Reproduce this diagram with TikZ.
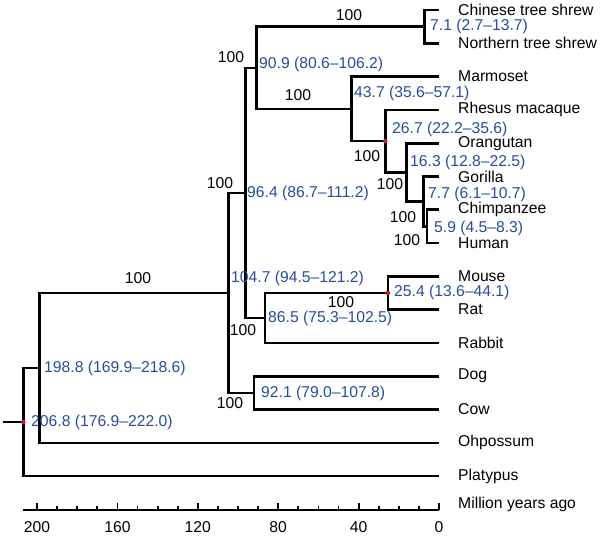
\documentclass[tikz,border=0pt]{standalone}
\usepackage{fontspec}
\setmainfont{Liberation Sans}
\definecolor{ageblue}{RGB}{41,77,153}
\definecolor{dotred}{RGB}{190,30,45}
\tikzset{
  lbl/.style={font=\fontsize{15.7}{18}\selectfont, inner sep=0pt},
  tip/.style={lbl, anchor=west},
  age/.style={lbl, anchor=west, text=ageblue},
  boot/.style={lbl, anchor=center},
  branch/.style={line width=2.6pt, line join=miter, line cap=butt},
  axisline/.style={line width=1.8pt},
  reddot/.style={fill=dotred, draw=none},
}
\begin{document}
\begin{tikzpicture}[x=1pt,y=-1pt]
\useasboundingbox (0,0) rectangle (600,539);
% tip ends
\coordinate (e0) at (439,10);
\coordinate (e1) at (439,43.3);
\coordinate (e2) at (439,76.6);
\coordinate (e3) at (439,109.9);
\coordinate (e4) at (439,143.2);
\coordinate (e5) at (439,176.4);
\coordinate (e6) at (439,209.7);
\coordinate (e7) at (439,243);
\coordinate (e8) at (439,276.3);
\coordinate (e9) at (439,309.6);
\coordinate (e10) at (439,342.9);
\coordinate (e11) at (439,376.2);
\coordinate (e12) at (439,409.5);
\coordinate (e13) at (439,442.8);
\coordinate (e14) at (439,476);
% tip labels
\node[tip] (t0) at (458,10) {Chinese tree shrew};
\node[tip] (t1) at (458,43.3) {Northern tree shrew};
\node[tip] (t2) at (458,76.6) {Marmoset};
\node[tip] (t3) at (458,109.9) {Rhesus macaque};
\node[tip] (t4) at (458,143.2) {Orangutan};
\node[tip] (t5) at (458,176.4) {Gorilla};
\node[tip] (t6) at (458,209.7) {Chimpanzee};
\node[tip] (t7) at (458,243) {Human};
\node[tip] (t8) at (458,276.3) {Mouse};
\node[tip] (t9) at (458,309.6) {Rat};
\node[tip] (t10) at (458,342.9) {Rabbit};
\node[tip] (t11) at (458,376.2) {Dog};
\node[tip] (t12) at (458,409.5) {Cow};
\node[tip] (t13) at (458,442.8) {Ohpossum};
\node[tip] (t14) at (458,476) {Platypus};
\node[tip] (myr) at (458,504) {Million years ago};
% internal nodes
\coordinate (ts) at (424.7,26.7);
\coordinate (ch) at (427.1,226.3);
\coordinate (gor) at (423.5,201.4);
\coordinate (ora) at (406.2,172.3);
\coordinate (cat) at (385.3,141.1);
\coordinate (ant) at (351.2,108.9);
\coordinate (eua) at (256.3,67.8);
\coordinate (mr) at (387.9,293);
\coordinate (gli) at (265.1,318);
\coordinate (euar) at (245.2,192.9);
\coordinate (lau) at (253.9,392.9);
\coordinate (bor) at (228.6,292.9);
\coordinate (the) at (39.4,367.9);
\coordinate (root) at (23.3,422);
\coordinate (stub) at (3,422);
% branches
\draw[branch] (e0) -| (ts) |- (e1);
\draw[branch] (e6) -| (ch) |- (e7);
\draw[branch] (e5) -| (gor) |- (ch);
\draw[branch] (e4) -| (ora) |- (gor);
\draw[branch] (e3) -| (cat) |- (ora);
\draw[branch] (e2) -| (ant) |- (cat);
\draw[branch] (ts) -| (eua) |- (ant);
\draw[branch] (e8) -| (mr) |- (e9);
\draw[branch] (mr) -| (gli) |- (e10);
\draw[branch] (eua) -| (euar) |- (gli);
\draw[branch] (e11) -| (lau) |- (e12);
\draw[branch] (euar) -| (bor) |- (lau);
\draw[branch] (bor) -| (the) |- (e13);
\draw[branch] (the) -| (root) |- (e14);
\draw[branch] (stub) -- (root);
% red dots
\fill[reddot] (cat) circle (2.3);
\fill[reddot] (mr) circle (2.3);
\fill[reddot] (root) circle (2.3);
% ages
\node[age] (a1) at (430,26.2) {7.1 (2.7–13.7)};
\node[age] (a2) at (259,64) {90.9 (80.6–106.2)};
\node[age] (a3) at (354,93) {43.7 (35.6–57.1)};
\node[age] (a4) at (392,129) {26.7 (22.2–35.6)};
\node[age] (a5) at (410,162) {16.3 (12.8–22.5)};
\node[age] (a6) at (428,194) {7.7 (6.1–10.7)};
\node[age] (a7) at (434,228) {5.9 (4.5–8.3)};
\node[age] (a8) at (247,193) {96.4 (86.7–111.2)};
\node[age] (a9) at (231,278) {104.7 (94.5–121.2)};
\node[age] (a10) at (268,318) {86.5 (75.3–102.5)};
\node[age] (a11) at (394,292) {25.4 (13.6–44.1)};
\node[age] (a12) at (261,393) {92.1 (79.0–107.8)};
\node[age] (a13) at (44,368) {198.8 (169.9–218.6)};
\node[age] (a14) at (31,422) {206.8 (176.9–222.0)};
% bootstrap
\node[boot] (b1) at (349,15) {100};
\node[boot] (b2) at (231,57) {100};
\node[boot] (b3) at (298,95) {100};
\node[boot] (b4) at (367,156) {100};
\node[boot] (b5) at (390,184) {100};
\node[boot] (b6) at (403,217) {100};
\node[boot] (b7) at (407,240) {100};
\node[boot] (b8) at (220,183) {100};
\node[boot] (b9) at (138,278) {100};
\node[boot] (b10) at (243,330) {100};
\node[boot] (b11) at (230,403) {100};
\node[boot] (b12) at (341,302) {100};
% axis
\coordinate (ax0) at (23,510);
\coordinate (ax1) at (439,510);
\draw[axisline] (ax0) -- (ax1);
\foreach \t in {0,10,...,200} {
  \pgfmathsetmacro{\xx}{439-2.01*\t}
  \draw[axisline] (\xx,510) -- (\xx,506);
}
\foreach \t in {0,40,...,200} {
  \pgfmathsetmacro{\xx}{439-2.01*\t}
  \draw[axisline] (\xx,510) -- (\xx,503);
  \node[boot] (tk\t) at (\xx,527) {\t};
}
\end{tikzpicture}
\end{document}
